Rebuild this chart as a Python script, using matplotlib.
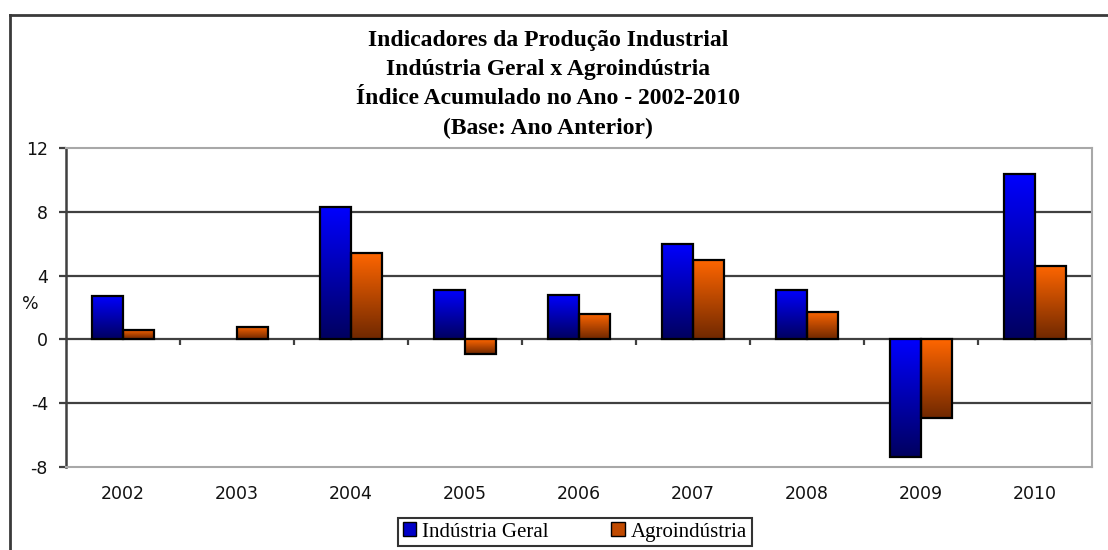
import numpy as np
import matplotlib
matplotlib.use("Agg")
import matplotlib.pyplot as plt
from matplotlib.patches import Patch
from matplotlib.lines import Line2D

years = ["2002", "2003", "2004", "2005", "2006", "2007", "2008", "2009", "2010"]
industria_geral = [2.7, 0.0, 8.3, 3.1, 2.8, 6.0, 3.1, -7.4, 10.4]
agroindustria = [0.6, 0.8, 5.4, -0.9, 1.6, 5.0, 1.7, -4.9, 4.6]
series_names = ["Indústria Geral", "Agroindústria"]
yticks = [-8, -4, 0, 4, 8, 12]
title_lines = ["Indicadores da Produção Industrial",
               "Indústria Geral x Agroindústria",
               "Índice Acumulado no Ano - 2002-2010",
               "(Base: Ano Anterior)"]

W, H = 1108, 550
fig = plt.figure(figsize=(W / 100, H / 100), dpi=100)
fig.patch.set_facecolor("white")

# outer chart frame (left and top edges only visible)
fig.add_artist(Line2D([9.5 / W, 9.5 / W], [0, 1 - 15 / H], transform=fig.transFigure,
                      color="#3a3a3a", lw=2.0))
fig.add_artist(Line2D([9.5 / W, 1], [1 - 15 / H, 1 - 15 / H], transform=fig.transFigure,
                      color="#3a3a3a", lw=2.0))

ax = fig.add_axes([66 / W, (H - 467) / H, (1092 - 66) / W, (467 - 148) / H])
ax.set_facecolor("white")

blue_top = np.array([0, 0, 255]) / 255
blue_bot = np.array([0, 0, 95]) / 255
orng_top = np.array([255, 102, 0]) / 255
orng_bot = np.array([112, 40, 0]) / 255

w = 0.275
x = np.arange(len(years))


def grad_bar(xc, h, top, bot):
    if h == 0:
        return
    b = ax.bar(xc, h, w, color="none", edgecolor="black", lw=1.6, zorder=4)[0]
    y0, y1 = min(0, h), max(0, h)
    t = np.linspace(0, 1, 128)[:, None]
    cols = top + (bot - top) * t
    img = cols[:, None, :]
    im = ax.imshow(img, extent=(xc - w / 2, xc + w / 2, y0, y1), origin="upper",
                   aspect="auto", zorder=3, interpolation="bilinear")
    im.set_clip_path(b)


for i in range(len(years)):
    grad_bar(x[i] - w / 2, industria_geral[i], blue_top, blue_bot)
    grad_bar(x[i] + w / 2, agroindustria[i], orng_top, orng_bot)

ax.set_aspect("auto")
ax.set_xlim(-0.5, len(years) - 0.5)
ax.set_ylim(-8, 12)

# gridlines
for yv in yticks:
    if yv in (-8, 12):
        continue
    ax.axhline(yv, color="#404040", lw=1.6, zorder=2)

# category tick marks on zero line
ax.vlines(np.arange(len(years) + 1) - 0.5, -0.33, 0, color="#404040", lw=1.6, zorder=2)

for s in ["top", "right", "bottom"]:
    ax.spines[s].set_color("#a8a8a8")
    ax.spines[s].set_linewidth(1.5)
ax.spines["left"].set_color("#404040")
ax.spines["left"].set_linewidth(1.8)

ax.set_yticks(yticks)
ax.set_yticklabels([str(v) for v in yticks], fontsize=12.5, color="#111111")
ax.tick_params(axis="y", length=5, width=1.6, color="#404040", pad=8)
ax.set_xticks(x)
ax.set_xticklabels(years, fontsize=12.5, color="#111111")
ax.tick_params(axis="x", length=0, pad=13)

ax.text(-0.035, 0.51, "%", transform=ax.transAxes, fontsize=12.5, ha="center",
        va="center", color="#111111")

# title
ys = [46, 75, 104, 134]
for line, yb in zip(title_lines, ys):
    fig.text(548 / W, 1 - yb / H, line, ha="center", va="baseline",
             fontsize=17, fontweight="bold", family="Liberation Serif", color="black")

handles = [Patch(facecolor="#0000c8", edgecolor="black", lw=1.0),
           Patch(facecolor="#c04a00", edgecolor="black", lw=1.0)]
leg = fig.legend(handles, series_names, loc="center", bbox_to_anchor=(575 / W, 1 - 532 / H),
                 ncol=2, frameon=True, fancybox=False, edgecolor="black",
                 prop={"family": "Liberation Serif", "size": 15},
                 handlelength=0.65, handleheight=0.65, handletextpad=0.3,
                 columnspacing=3.0, borderpad=0.2, borderaxespad=0)
leg.get_frame().set_linewidth(1.5)

fig.savefig("out.png", dpi=100, facecolor="white")
